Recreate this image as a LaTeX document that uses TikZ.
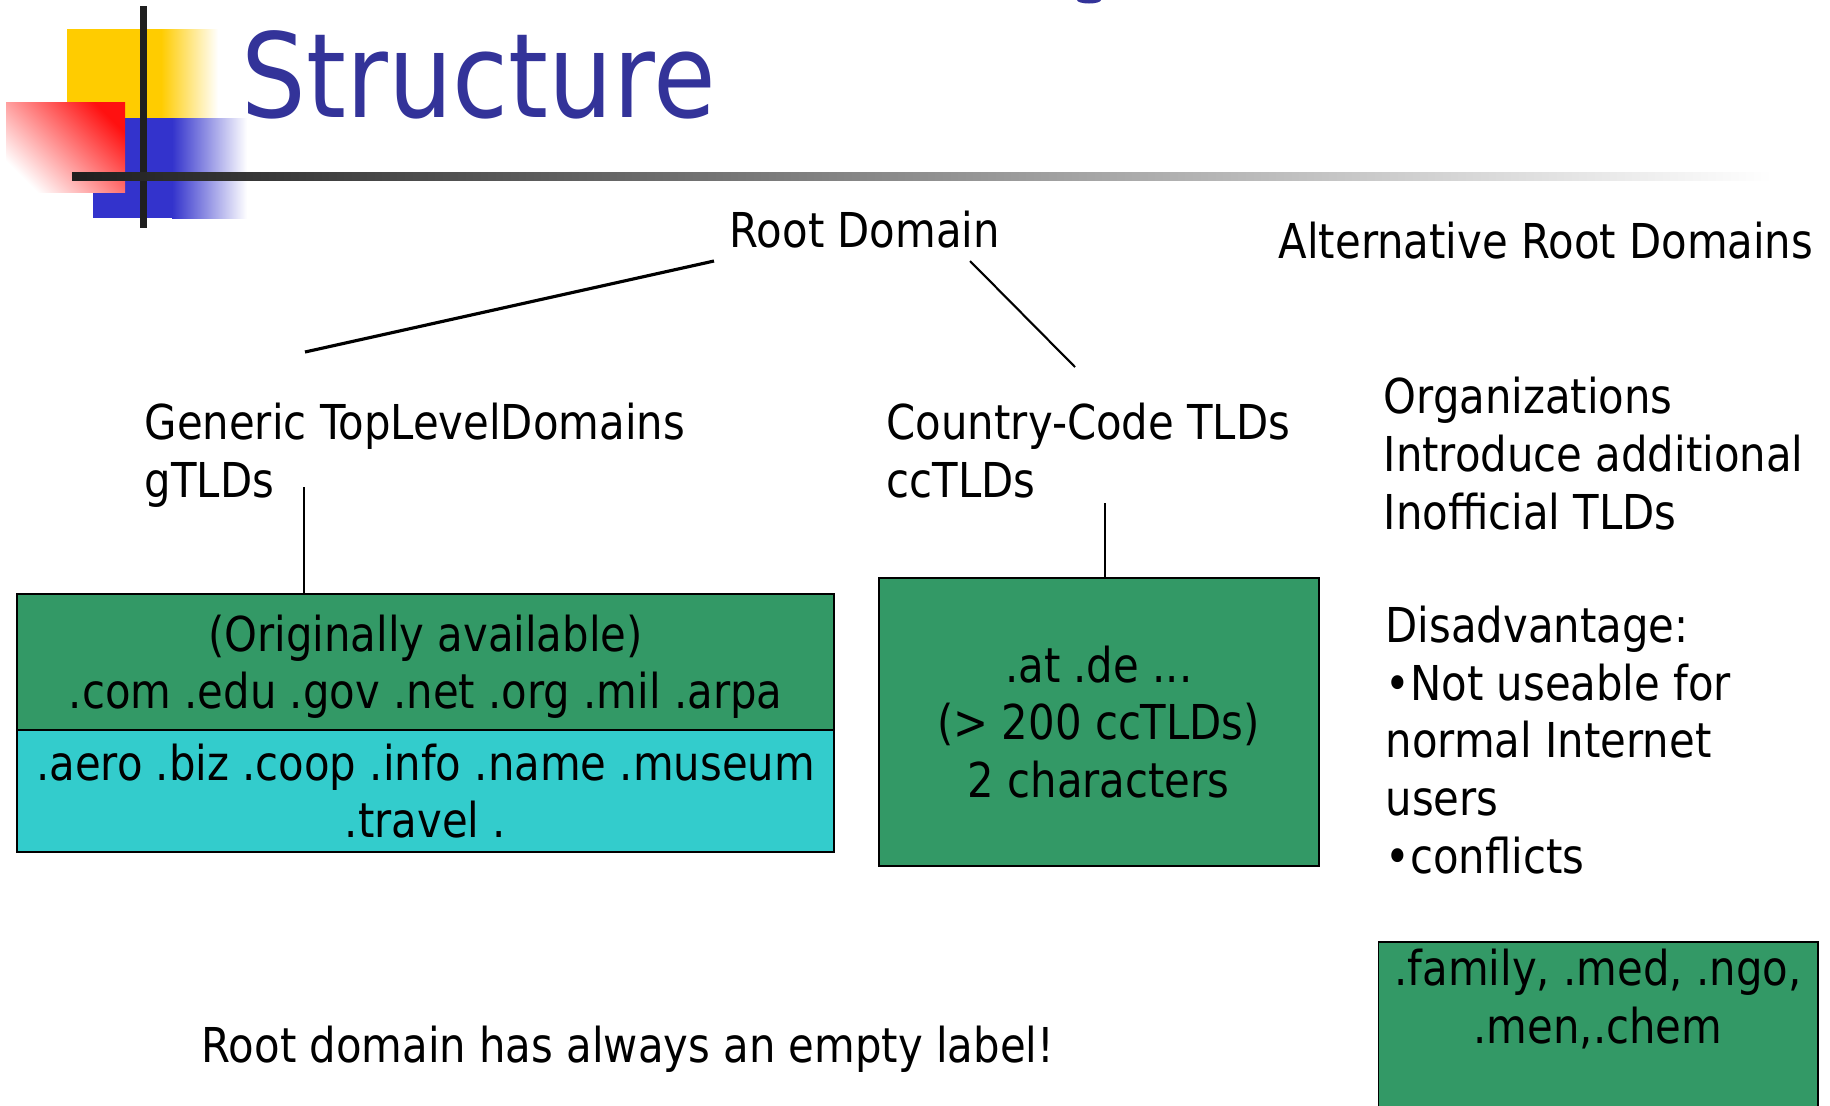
\documentclass[tikz,border=0pt]{standalone}
\usepackage{fontspec}
\setmainfont{DejaVu Sans}[FakeStretch=0.87]
\usepackage{tikz}
\usetikzlibrary{calc}
\definecolor{titleblue}{HTML}{333399}
\definecolor{tldgreen}{HTML}{339966}
\definecolor{tldcyan}{HTML}{33CCCC}
\definecolor{logoyellow}{HTML}{FFCC00}
\definecolor{logored}{HTML}{FF1010}
\definecolor{logoblue}{HTML}{3333CC}

\begin{document}
\begin{tikzpicture}[x=0.01cm, y=-0.01cm,
  txt/.style   = {anchor=base west, inner sep=0pt, align=left, font=\fontsize{13.66pt}{16.36pt}\selectfont},
  gbox/.style  = {draw=black, line width=0.5pt, fill=tldgreen, align=center, inner sep=0pt, font=\fontsize{13.66pt}{16.36pt}\selectfont},
  cbox/.style  = {gbox, fill=tldcyan},
  link/.style  = {draw=black, line width=0.6pt},
]
\useasboundingbox (0,0) rectangle (1830,1105);
%%--- Logo and title ---
\fill[titleblue] (1089,0) ellipse [x radius=0.12cm, y radius=0.035cm];
\fill[logoyellow] (67,29) rectangle (161,118);
\shade[left color=logoyellow, right color=white] (161,29) rectangle (218,118);
\fill[logoblue] (93,118) rectangle (172,218);
\shade[left color=logoblue, right color=white] (172,118) rectangle (247,218);
\shade[top color=logored, bottom color=white, shading angle=-45] (6,102) rectangle (125,192);
\fill[black!88] (140,6) rectangle (147,228);
\shade[left color=black!88, middle color=black!32, right color=white] (72,172) rectangle (1772,180);
\node[anchor=base west, inner sep=0pt, font=\fontsize{33.3pt}{36pt}\selectfont, text=titleblue] (title) at (241,117) {Structure};
%%--- Root and top level labels (multi-line nodes sit on their last line) ---
\node[txt] (root)  at (729,247)  {Root Domain};
\node[txt] (alt)   at (1278,258) {Alternative Root Domains};
\node[txt] (gtld)  at (144,497)  {Generic TopLevelDomains\\gTLDs};
\node[txt] (cctld) at (886,497)  {Country-Code TLDs\\ccTLDs};
\node[txt] (orgs)  at (1383,529) {Organizations\\Introduce additional\\Inofficial TLDs};
\node[txt] (disadv) at (1385,873) {Disadvantage:\\•Not useable for\\normal Internet\\users\\•conflicts};
\node[txt] (note)  at (201,1062) {Root domain has always an empty label!};
%%--- TLD boxes ---
\node[gbox, minimum width=8.17cm, minimum height=1.36cm] (gtop) at (425.5,662) {\rule{0pt}{0.455cm}(Originally available)\\.com .edu .gov .net .org .mil .arpa};
\node[cbox, minimum width=8.17cm, minimum height=1.22cm] (gbot) at (425.5,791) {.aero .biz .coop .info .name .museum\\.travel .};
\node[gbox, minimum width=4.395cm, minimum height=2.88cm] (ccbox) at (1098.75,722) {.at .de ...\\(> 200 ccTLDs)\\2 characters};
\node[gbox, minimum width=4.394cm, minimum height=1.9cm] (altbox) at (1598.3,1037) {};
\node[txt, anchor=base, align=center] (alttext) at (1598,1043) {.family, .med, .ngo,\\.men,.chem};
%%--- Connectors ---
\coordinate (rootl)  at (714,261);
\coordinate (gtldt)  at (305,352);
\coordinate (rootr)  at (970,261);
\coordinate (cctldt) at (1075,367);
\coordinate (gtldb)  at (304,487);
\coordinate (cctldb) at (1105,503);
\draw[link, line width=0.9pt] (rootl)--(gtldt);
\draw[link] (rootr)--(cctldt);
\draw[link] (gtldb)--(gtldb |- gtop.north);
\draw[link] (cctldb)--(cctldb |- ccbox.north);
\end{tikzpicture}
\end{document}
